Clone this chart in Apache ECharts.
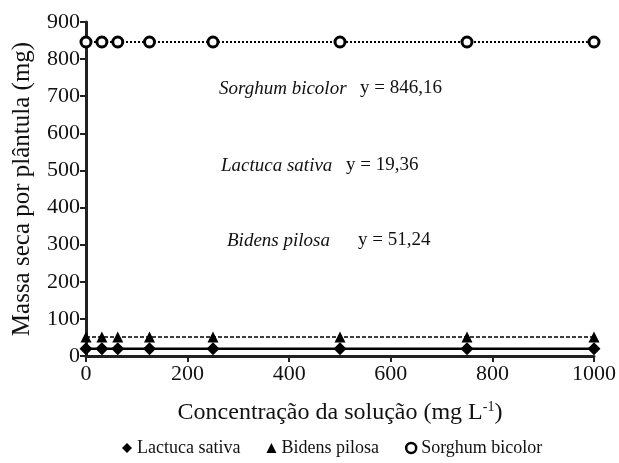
<!DOCTYPE html>
<html><head><meta charset="utf-8">
<script src="https://cdn.jsdelivr.net/npm/echarts@6/dist/echarts.min.js"></script>
<style>html,body{margin:0;padding:0;background:#fff}#c{width:619px;height:463px}</style>
</head><body><div id="c"></div>
<script>
const concentrations = [0, 31.25, 62.5, 125, 250, 500, 750, 1000];
const lactuca = [19.36, 19.36, 19.36, 19.36, 19.36, 19.36, 19.36, 19.36];
const bidens = [51.24, 51.24, 51.24, 51.24, 51.24, 51.24, 51.24, 51.24];
const sorghum = [846.16, 846.16, 846.16, 846.16, 846.16, 846.16, 846.16, 846.16];
const seriesNames = ['Lactuca sativa', 'Bidens pilosa', 'Sorghum bicolor'];
const equations = ['y = 19,36', 'y = 51,24', 'y = 846,16'];

const F = 'Liberation Serif, Times New Roman, serif';
const chart = echarts.init(document.getElementById('c'));
const pts = arr => concentrations.map((x, i) => [x, arr[i]]);
chart.setOption({
  animation: false,
  grid: {left: 86, right: 17, top: 22, bottom: 107, containLabel: false},
  xAxis: {
    type: 'value', min: 0, max: 1000, interval: 200,
    name: 'Concentração da solução (mg L{s|-1})',
    nameLocation: 'middle', nameGap: 44,
    nameTextStyle: {fontFamily: F, fontSize: 24, color: '#111',
      rich: {s: {fontFamily: F, fontSize: 14, color: '#111', verticalAlign: 'top', padding: [0,0,12,0]}}},
    axisLine: {onZero: false, lineStyle: {color: '#222', width: 3}},
    axisTick: {show: true, length: 6, lineStyle: {color: '#222', width: 2}},
    axisLabel: {fontFamily: F, fontSize: 22, color: '#111', margin: 7, formatter: v => String(v)},
    splitLine: {show: false}
  },
  yAxis: {
    type: 'value', min: 0, max: 900, interval: 100,
    name: 'Massa seca por plântula (mg)',
    nameLocation: 'middle', nameGap: 51,
    nameTextStyle: {fontFamily: F, fontSize: 25, color: '#111'},
    axisLine: {show: true, lineStyle: {color: '#222', width: 3}},
    axisTick: {show: true, length: 6, lineStyle: {color: '#222', width: 2}},
    axisLabel: {fontFamily: F, fontSize: 22, color: '#111', margin: 6},
    splitLine: {show: false}
  },
  legend: {
    bottom: 1, left: 117, itemGap: 26, itemWidth: 10, itemHeight: 10,
    textStyle: {fontFamily: F, fontSize: 18, color: '#111'},
    data: [
      {name: seriesNames[0], icon: 'diamond', itemStyle: {color: '#000', borderWidth: 0}},
      {name: seriesNames[1], icon: 'triangle', itemStyle: {color: '#000', borderWidth: 0}},
      {name: seriesNames[2], icon: 'circle', itemStyle: {color: '#fff', borderColor: '#000', borderWidth: 2.5}}
    ]
  },
  series: [
    {name: seriesNames[0], type: 'line', data: pts(lactuca), symbol: 'diamond', symbolSize: 13,
     itemStyle: {color: '#000'}, lineStyle: {color: '#000', width: 2.5, type: 'solid'}},
    {name: seriesNames[1], type: 'line', data: pts(bidens), symbol: 'triangle', symbolSize: 11,
     itemStyle: {color: '#000'}, lineStyle: {color: '#000', width: 1.5, type: [4, 2]}},
    {name: seriesNames[2], type: 'line', data: pts(sorghum), symbol: 'circle', symbolSize: 10,
     itemStyle: {color: '#fff', borderColor: '#000', borderWidth: 3}, lineStyle: {color: '#000', width: 2, type: 'dotted'}}
  ],
  graphic: [
    {type: 'text', left: 219, top: 79, style: {text: seriesNames[2], font: 'italic 19px ' + F, fill: '#111'}},
    {type: 'text', left: 360, top: 79, style: {text: equations[2], font: '19px ' + F, fill: '#111'}},
    {type: 'text', left: 221, top: 156, style: {text: seriesNames[0], font: 'italic 19px ' + F, fill: '#111'}},
    {type: 'text', left: 346, top: 156, style: {text: equations[0], font: '19px ' + F, fill: '#111'}},
    {type: 'text', left: 227, top: 231, style: {text: seriesNames[1], font: 'italic 19px ' + F, fill: '#111'}},
    {type: 'text', left: 358, top: 231, style: {text: equations[1], font: '19px ' + F, fill: '#111'}}
  ]
});
</script></body></html>
